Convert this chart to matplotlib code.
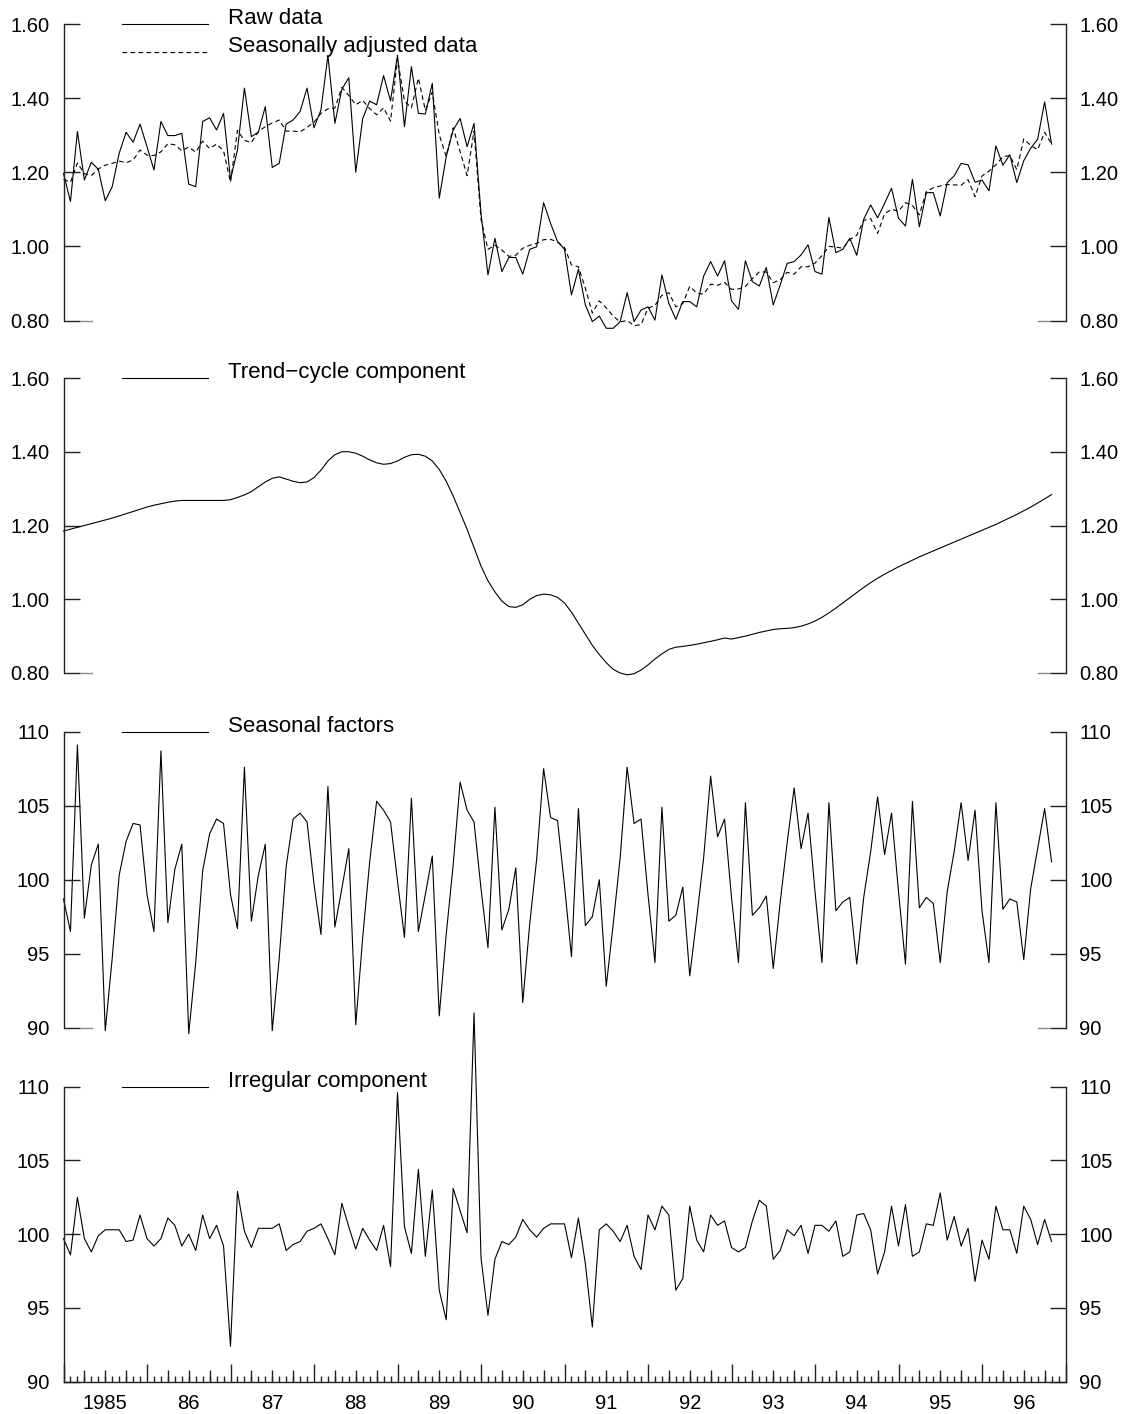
import numpy as np
import matplotlib.pyplot as plt
from matplotlib.ticker import FormatStrFormatter

plt.rcParams['font.family'] = ['Liberation Sans', 'DejaVu Sans']

# monthly series, Jan 1985 - Nov 1996
raw = [1.197, 1.121, 1.310, 1.179, 1.227, 1.208, 1.123, 1.161, 1.251, 1.308, 1.281, 1.330,
       1.269, 1.206, 1.337, 1.299, 1.299, 1.305, 1.168, 1.161, 1.337, 1.347, 1.314, 1.359,
       1.181, 1.260, 1.427, 1.296, 1.308, 1.377, 1.213, 1.224, 1.330, 1.341, 1.364, 1.427,
       1.320, 1.368, 1.515, 1.332, 1.424, 1.455, 1.200, 1.345, 1.392, 1.382, 1.461, 1.392,
       1.516, 1.323, 1.485, 1.359, 1.357, 1.440, 1.130, 1.242, 1.314, 1.345, 1.269, 1.332,
       1.089, 0.923, 1.022, 0.932, 0.970, 0.970, 0.925, 0.992, 0.999, 1.118, 1.062, 1.013,
       0.992, 0.869, 0.938, 0.842, 0.797, 0.812, 0.779, 0.779, 0.797, 0.875, 0.797, 0.828,
       0.837, 0.801, 0.923, 0.846, 0.803, 0.851, 0.851, 0.837, 0.920, 0.959, 0.920, 0.961,
       0.853, 0.830, 0.961, 0.905, 0.893, 0.943, 0.842, 0.896, 0.954, 0.959, 0.977, 1.004,
       0.932, 0.925, 1.078, 0.983, 0.992, 1.022, 0.976, 1.073, 1.112, 1.077, 1.116, 1.157,
       1.076, 1.055, 1.181, 1.053, 1.145, 1.145, 1.082, 1.172, 1.190, 1.224, 1.220, 1.173,
       1.179, 1.150, 1.271, 1.219, 1.247, 1.172, 1.231, 1.265, 1.289, 1.390, 1.276]

seas_adj = [1.181, 1.173, 1.225, 1.196, 1.191, 1.209, 1.219, 1.224, 1.230, 1.226, 1.233, 1.260,
            1.246, 1.245, 1.255, 1.277, 1.274, 1.258, 1.268, 1.254, 1.284, 1.264, 1.276, 1.258,
            1.173, 1.313, 1.286, 1.280, 1.310, 1.323, 1.333, 1.341, 1.311, 1.311, 1.309, 1.321,
            1.335, 1.359, 1.371, 1.373, 1.429, 1.407, 1.382, 1.394, 1.372, 1.355, 1.374, 1.338,
            1.507, 1.392, 1.374, 1.454, 1.367, 1.416, 1.301, 1.243, 1.320, 1.255, 1.191, 1.311,
            1.073, 0.992, 1.003, 0.990, 0.973, 0.976, 0.995, 1.003, 1.008, 1.018, 1.019, 1.012,
            0.997, 0.950, 0.945, 0.887, 0.820, 0.853, 0.834, 0.812, 0.796, 0.800, 0.786, 0.789,
            0.833, 0.841, 0.868, 0.875, 0.837, 0.846, 0.892, 0.874, 0.871, 0.898, 0.895, 0.903,
            0.884, 0.885, 0.892, 0.913, 0.931, 0.931, 0.902, 0.910, 0.930, 0.925, 0.945, 0.945,
            0.955, 0.975, 1.000, 0.998, 0.995, 1.018, 1.030, 1.070, 1.075, 1.035, 1.088, 1.100,
            1.095, 1.118, 1.110, 1.085, 1.148, 1.158, 1.163, 1.167, 1.166, 1.165, 1.180, 1.134,
            1.190, 1.203, 1.220, 1.242, 1.245, 1.207, 1.290, 1.272, 1.261, 1.308, 1.276]

trend = [1.185, 1.190, 1.195, 1.200, 1.205, 1.210, 1.215, 1.220, 1.226, 1.232, 1.238, 1.244,
         1.250, 1.255, 1.259, 1.263, 1.266, 1.268, 1.268, 1.268, 1.268, 1.268, 1.268, 1.268,
         1.270, 1.276, 1.283, 1.292, 1.305, 1.318, 1.328, 1.332, 1.326, 1.320, 1.316, 1.318,
         1.330, 1.350, 1.375, 1.392, 1.400, 1.400, 1.396, 1.388, 1.378, 1.370, 1.366, 1.368,
         1.375, 1.385, 1.392, 1.393, 1.388, 1.375, 1.352, 1.320, 1.280, 1.235, 1.190, 1.140,
         1.090, 1.050, 1.020, 0.995, 0.980, 0.978, 0.985, 1.000, 1.010, 1.014, 1.012, 1.005,
         0.990, 0.965, 0.935, 0.905, 0.875, 0.850, 0.828, 0.810, 0.800, 0.795, 0.798, 0.808,
         0.822, 0.838, 0.852, 0.864, 0.870, 0.872, 0.875, 0.878, 0.882, 0.886, 0.890, 0.895,
         0.892, 0.896, 0.900, 0.905, 0.910, 0.914, 0.918, 0.920, 0.921, 0.923, 0.927, 0.933,
         0.941, 0.951, 0.963, 0.976, 0.990, 1.004, 1.018, 1.032, 1.045, 1.057, 1.068, 1.078,
         1.088, 1.097, 1.106, 1.115, 1.123, 1.131, 1.139, 1.147, 1.155, 1.163, 1.171, 1.179,
         1.187, 1.195, 1.203, 1.212, 1.221, 1.230, 1.240, 1.250, 1.261, 1.272, 1.284]

seasonal = [98.7, 96.5, 109.1, 97.4, 101.0, 102.4, 89.8, 94.7, 100.3, 102.6, 103.8, 103.7,
            99.0, 96.5, 108.7, 97.1, 100.7, 102.4, 89.6, 94.4, 100.6, 103.1, 104.1, 103.8,
            99.0, 96.7, 107.6, 97.2, 100.3, 102.4, 89.8, 94.7, 100.9, 104.1, 104.5, 103.9,
            99.7, 96.3, 106.3, 96.8, 99.4, 102.1, 90.2, 96.1, 101.2, 105.3, 104.7, 103.9,
            99.9, 96.1, 105.5, 96.5, 99.0, 101.6, 90.8, 96.3, 101.0, 106.6, 104.7, 103.9,
            99.4, 95.4, 104.9, 96.6, 98.0, 100.8, 91.7, 97.0, 101.4, 107.5, 104.2, 104.0,
            99.6, 94.8, 104.8, 96.9, 97.5, 100.0, 92.8, 97.0, 101.5, 107.6, 103.8, 104.1,
            99.0, 94.4, 104.9, 97.2, 97.6, 99.5, 93.5, 97.4, 101.5, 107.0, 102.9, 104.1,
            98.8, 94.4, 105.2, 97.6, 98.1, 98.9, 94.0, 98.5, 102.5, 106.2, 102.1, 104.5,
            99.2, 94.4, 105.2, 97.9, 98.5, 98.8, 94.3, 98.8, 101.9, 105.6, 101.7, 104.5,
            99.2, 94.3, 105.3, 98.1, 98.8, 98.4, 94.4, 99.2, 101.9, 105.2, 101.3, 104.7,
            97.9, 94.4, 105.2, 98.0, 98.7, 98.5, 94.6, 99.4, 102.1, 104.8, 101.2]

irregular = [99.7, 98.6, 102.5, 99.7, 98.8, 99.9, 100.3, 100.3, 100.3, 99.5, 99.6, 101.3,
             99.7, 99.2, 99.7, 101.1, 100.6, 99.2, 100.0, 98.9, 101.3, 99.7, 100.6, 99.2,
             92.4, 102.9, 100.2, 99.1, 100.4, 100.4, 100.4, 100.7, 98.9, 99.3, 99.5, 100.2,
             100.4, 100.7, 99.7, 98.6, 102.1, 100.5, 99.0, 100.4, 99.6, 98.9, 100.6, 97.8,
             109.6, 100.5, 98.7, 104.4, 98.5, 103.0, 96.2, 94.2, 103.1, 101.6, 100.1, 115.0,
             98.4, 94.5, 98.3, 99.5, 99.3, 99.8, 101.0, 100.3, 99.8, 100.4, 100.7, 100.7,
             100.7, 98.4, 101.1, 98.0, 93.7, 100.3, 100.7, 100.2, 99.5, 100.6, 98.5, 97.6,
             101.3, 100.3, 101.9, 101.3, 96.2, 97.0, 101.9, 99.6, 98.8, 101.3, 100.6, 100.9,
             99.1, 98.8, 99.1, 100.9, 102.3, 101.9, 98.3, 98.9, 100.3, 99.9, 100.6, 98.7,
             100.6, 100.6, 100.2, 100.9, 98.5, 98.8, 101.3, 101.4, 100.3, 97.3, 98.8, 101.9,
             99.2, 102.0, 98.5, 98.8, 100.7, 100.6, 102.8, 99.6, 101.2, 99.2, 100.4, 96.8,
             99.6, 98.3, 101.9, 100.3, 100.3, 98.7, 101.9, 101.0, 99.3, 101.0, 99.5]

years = np.arange(1985, 1997)
year_labels = ['1985'] + ['%02d' % (y % 100) for y in years[1:]]

t = 1985 + np.arange(len(raw)) / 12.0

W, H = 1128, 1414
LEFT, RIGHT = 63.5, 1065.5
fig = plt.figure(figsize=(W / 100, H / 100), dpi=100)

panels = [
    (24, 320.5, (0.8, 1.6), [0.8, 1.0, 1.2, 1.4, 1.6], '%.2f',
     [(raw, '-', 'Raw data'), (seas_adj, '--', 'Seasonally adjusted data')]),
    (378, 673, (0.8, 1.6), [0.8, 1.0, 1.2, 1.4, 1.6], '%.2f',
     [(trend, '-', 'Trend\u2212cycle component')]),
    (731.7, 1027.7, (90, 110), [90, 95, 100, 105, 110], '%d',
     [(seasonal, '-', 'Seasonal factors')]),
    (1086.7, 1381.7, (90, 110), [90, 95, 100, 105, 110], '%d',
     [(irregular, '-', 'Irregular component')]),
]

DASH = (0, (4.2, 3.0))
axes_w = RIGHT - LEFT
axes = []
for k, (top, bottom, ylim, yticks, fmt, series) in enumerate(panels):
    ax = fig.add_axes([LEFT / W, 1 - bottom / H, axes_w / W, (bottom - top) / H])
    axes.append(ax)
    ax_h = bottom - top
    for vals, ls, label in series:
        ax.plot(t, vals, color='black', lw=0.8,
                linestyle=DASH if ls == '--' else '-', clip_on=False)
    ax.set_xlim(1985, 1997)
    ax.set_ylim(*ylim)

    for side in ('top', 'bottom'):
        ax.spines[side].set_visible(False)
    for side in ('left', 'right'):
        ax.spines[side].set_color('#222222')
        ax.spines[side].set_linewidth(1.0)

    ax.set_yticks(yticks)
    ax.yaxis.set_major_formatter(FormatStrFormatter(fmt))
    ax.tick_params(axis='y', direction='in', length=11.5, width=1.0, color='#222222',
                   left=True, right=True, labelleft=True, labelright=True,
                   labelsize=14.5, pad=10)
    ax.tick_params(axis='x', which='both', bottom=False, labelbottom=False)

    # legend keys sit at the top of each panel
    for j, (vals, ls, label) in enumerate(series):
        yk = 1 - j * 28.3 / ax_h
        ax.plot([58.2 / axes_w, 144.8 / axes_w], [yk, yk], transform=ax.transAxes,
                color='black', lw=0.8, linestyle=DASH if ls == '--' else '-', clip_on=False)
        ax.text(164.8 / axes_w, yk, label, transform=ax.transAxes, fontsize=16,
                ha='left', va='baseline')

    if k < 3:
        # short grey stub continuing the lowest tick
        for x0, x1 in ((16 / axes_w, 28 / axes_w), (1 - 28 / axes_w, 1 - 16 / axes_w)):
            ax.plot([x0, x1], [0, 0], transform=ax.transAxes, color='#8a8a8a',
                    lw=1.0, clip_on=False)

# time axis on the bottom panel
ax = axes[3]
ax.spines['bottom'].set_visible(True)
ax.spines['bottom'].set_color('#222222')
ax.spines['bottom'].set_linewidth(1.0)
ax.set_xticks(np.arange(1985, 1998))
ax.set_xticks(1985 + np.arange(0, 145) / 12.0, minor=True)
ax.tick_params(axis='x', which='major', bottom=True, direction='in', length=13,
               width=1.0, color='#222222', labelbottom=False)
ax.tick_params(axis='x', which='minor', bottom=True, direction='in', length=4.3,
               width=1.0, color='#222222', labelbottom=False)

quarters = ax.secondary_xaxis('bottom')
quarters.set_xticks([1985 + q / 4.0 for q in range(48) if q % 4])
quarters.tick_params(axis='x', direction='in', length=8.6, width=1.0,
                     color='#222222', labelbottom=False)
quarters.spines['bottom'].set_visible(False)

labels = ax.secondary_xaxis('bottom')
labels.set_xticks(years + 0.5, labels=year_labels)
labels.tick_params(axis='x', length=0, pad=9, labelsize=14.5)
labels.spines['bottom'].set_visible(False)

fig.savefig('out.png', dpi=100)
